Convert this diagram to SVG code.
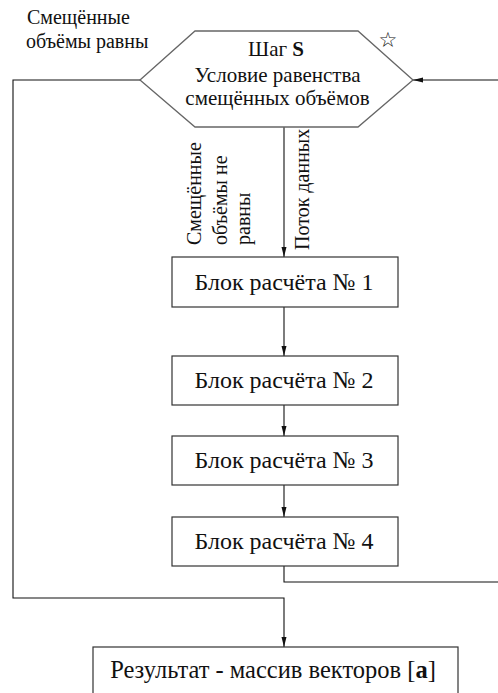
<svg xmlns="http://www.w3.org/2000/svg" width="498" height="693" viewBox="0 0 498 693">
<style>
  text { font-family: "Liberation Serif", serif; fill: #111; }
  .lbl { font-size: 20px; }
  .hex { font-size: 21px; }
  .box { font-size: 24px; }
  .node { fill: #fff; stroke: #333; stroke-width: 1.2; }
  .hexshape { fill: #fff; stroke: #666; stroke-width: 1.3; }
  .conn { fill: none; stroke: #111; stroke-width: 1.1; }
</style>
<defs>
  <marker id="arr" viewBox="0 0 10 6" refX="10" refY="3" markerWidth="10" markerHeight="6" markerUnits="userSpaceOnUse" orient="auto">
    <path d="M0,0.5 L10,3 L0,5.5 Z" fill="#111"/>
  </marker>
</defs>
<rect width="498" height="693" fill="#fff"/>

<g id="connectors">
  <path class="conn" d="M140,80 H13 V598 H284 V647" marker-end="url(#arr)"/>
  <path class="conn" d="M498,80 H413" marker-end="url(#arr)"/>
  <path class="conn" d="M284,127 V257" marker-end="url(#arr)"/>
  <path class="conn" d="M284,307 V356" marker-end="url(#arr)"/>
  <path class="conn" d="M284,405 V436" marker-end="url(#arr)"/>
  <path class="conn" d="M284,485 V517" marker-end="url(#arr)"/>
  <path class="conn" d="M284,566 V582 H498"/>
</g>

<g id="label-equal">
  <text class="lbl" x="27" y="24">Смещённые</text>
  <text class="lbl" x="26" y="48">объёмы равны</text>
</g>

<g id="label-notequal">
  <text class="lbl" transform="translate(201,245) rotate(-90)">Смещённые</text>
  <text class="lbl" transform="translate(227,245) rotate(-90)">объёмы не</text>
  <text class="lbl" transform="translate(250,245) rotate(-90)">равны</text>
</g>

<g id="label-flow">
  <text class="lbl" transform="translate(309,250) rotate(-90)">Поток данных</text>
</g>

<g id="step-s">
  <polygon class="hexshape" points="140,80 195,31 358,31 413,80 358,127 195,127"/>
  <text class="hex" x="276" y="56" text-anchor="middle">Шаг <tspan font-weight="bold">S</tspan></text>
  <text class="hex" x="277.5" y="82" text-anchor="middle">Условие равенства</text>
  <text class="hex" x="277.5" y="105" text-anchor="middle">смещённых объёмов</text>
  <text x="388" y="47" text-anchor="middle" style="font-family: 'DejaVu Sans', sans-serif; font-size: 21px;">☆</text>
</g>

<g id="block1">
  <rect class="node" x="172" y="257" width="226" height="50"/>
  <text class="box" x="284" y="290" text-anchor="middle">Блок расчёта № 1</text>
</g>
<g id="block2">
  <rect class="node" x="172" y="356" width="226" height="49"/>
  <text class="box" x="284" y="388" text-anchor="middle">Блок расчёта № 2</text>
</g>
<g id="block3">
  <rect class="node" x="172" y="436" width="226" height="49"/>
  <text class="box" x="284" y="468" text-anchor="middle">Блок расчёта № 3</text>
</g>
<g id="block4">
  <rect class="node" x="172" y="517" width="226" height="49"/>
  <text class="box" x="284" y="549" text-anchor="middle">Блок расчёта № 4</text>
</g>

<g id="result">
  <rect class="node" x="93" y="647" width="365" height="60"/>
  <text class="box" x="273" y="678" text-anchor="middle" style="font-size:24.5px">Результат - массив векторов [<tspan font-weight="bold">а</tspan>]</text>
</g>
</svg>
